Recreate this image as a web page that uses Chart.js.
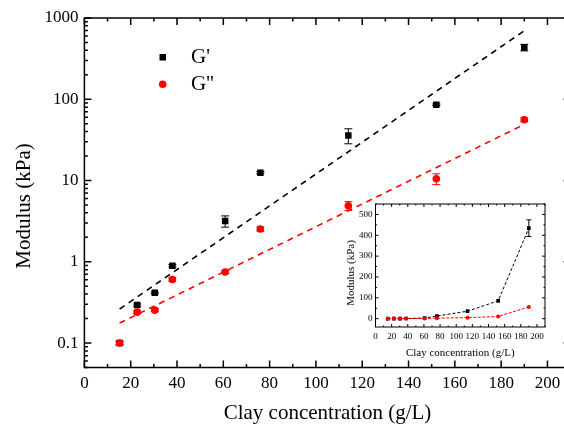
<!DOCTYPE html>
<html>
<head>
<meta charset="utf-8">
<title>Modulus vs clay concentration</title>
<script src="https://cdn.jsdelivr.net/npm/chart.js@4.4.1/dist/chart.umd.min.js"></script>
<style>
  html, body { margin: 0; padding: 0; background: #fff; overflow: hidden; }
  #wrap { position: relative; width: 564px; height: 427px; overflow: hidden; }
  #main { position: absolute; left: 0; top: 0; }
  #inset { position: absolute; left: 330px; top: 194px; }
</style>
</head>
<body>
<div id="wrap">
  <canvas id="main" width="600" height="427"></canvas>
  <canvas id="inset" width="230" height="172"></canvas>
</div>
<script>
// clay concentration (g/L)
const clay = [15.2, 22.8, 30.4, 38, 60.8, 76, 114, 152, 190];
// storage modulus G' (kPa) and its standard deviation
const storage = [0.1, 0.293, 0.415, 0.893, 3.17, 12.5, 35.8, 85.6, 434];
const storageErr = [0.005, 0.01, 0.01, 0.03, 0.5, 0.4, 7.5, 2, 40];
// loss modulus G'' (kPa) and its standard deviation
const loss = [0.1, 0.24, 0.254, 0.606, 0.747, 2.53, 4.89, 10.5, 56];
const lossErr = [0.005, 0.01, 0.01, 0.03, 0.03, 0.15, 0.6, 1.6, 3];
// exponential fits (straight on the log axis), end points
const fitX = [15.2, 190];
const storageFit = [0.262, 697];
const lossFit = [0.176, 49];

// tick labels
const xTicks = [0, 20, 40, 60, 80, 100, 120, 140, 160, 180, 200];
const yTicks = [0.1, 1, 10, 100, 1000];
const insetYTicks = [0, 100, 200, 300, 400, 500];

const SERIF = '"Liberation Serif", "Times New Roman", serif';
const RED = '#ff0000';

const pts = (xs, ys) => xs.map((x, i) => ({ x: x, y: ys[i] }));

// minor ticks on the log axis: 2..9 of every decade
const logMinor = [];
for (let e = -2; e <= 2; e++) {
  for (let m = 2; m <= 9; m++) logMinor.push(m * Math.pow(10, e));
}
const xMinorMain = xTicks.map(v => v + 10);
const xMinorInset = xTicks.map(v => v + 10);
const yMinorInset = insetYTicks.map(v => v + 50);

// frame, inward ticks, error bars, legend and rotated y title
function framePlugin(cfg) {
  return {
    id: 'frame',
    beforeDatasetsDraw(chart) {
      const { ctx, scales: { x, y } } = chart;
      ctx.save();
      ctx.lineWidth = 1;
      cfg.errors.forEach(e => {
        ctx.strokeStyle = e.color;
        e.y.forEach((v, i) => {
          const px = x.getPixelForValue(e.x[i]);
          const hi = y.getPixelForValue(v + e.err[i]);
          const lo = y.getPixelForValue(v - e.err[i]);
          ctx.beginPath();
          ctx.moveTo(px, hi); ctx.lineTo(px, lo);
          ctx.moveTo(px - cfg.cap, hi); ctx.lineTo(px + cfg.cap, hi);
          ctx.moveTo(px - cfg.cap, lo); ctx.lineTo(px + cfg.cap, lo);
          ctx.stroke();
        });
      });
      ctx.restore();
    },
    afterDraw(chart) {
      const { ctx, chartArea: a, scales: { x, y } } = chart;
      ctx.save();
      ctx.strokeStyle = '#000';
      ctx.lineWidth = cfg.frameWidth;
      ctx.strokeRect(a.left, a.top, a.right - a.left, a.bottom - a.top);

      const line = (x1, y1, x2, y2) => { ctx.moveTo(x1, y1); ctx.lineTo(x2, y2); };
      ctx.beginPath();
      const xt = (vals, len) => vals.forEach(v => {
        const p = x.getPixelForValue(v);
        if (p < a.left - 0.5 || p > a.right + 0.5) return;
        line(p, a.bottom, p, a.bottom - len);
        line(p, a.top, p, a.top + len);
      });
      const yt = (vals, len) => vals.forEach(v => {
        const p = y.getPixelForValue(v);
        if (p < a.top - 0.5 || p > a.bottom + 0.5) return;
        line(a.left, p, a.left + len, p);
        line(a.right, p, a.right - len, p);
      });
      xt(cfg.xMajor, cfg.major);
      xt(cfg.xMinor, cfg.minor);
      yt(cfg.yMajor, cfg.major);
      yt(cfg.yMinor, cfg.minor);
      ctx.stroke();

      // y axis title
      ctx.fillStyle = '#000';
      ctx.font = cfg.titleSize + 'px ' + SERIF;
      ctx.textAlign = 'center';
      ctx.textBaseline = 'middle';
      ctx.translate(cfg.titlePos[0], cfg.titlePos[1]);
      ctx.rotate(-Math.PI / 2);
      ctx.fillText('Modulus (kPa)', 0, 0);
      ctx.restore();

      if (cfg.legend) {
        ctx.save();
        ctx.font = '21px ' + SERIF;
        ctx.textBaseline = 'middle';
        ctx.fillStyle = '#000';
        ctx.fillRect(159.5, 54, 6.5, 6.5);
        ctx.fillText("G'", 191, 57);
        ctx.fillStyle = RED;
        ctx.beginPath();
        ctx.arc(162.7, 84.3, 3.8, 0, Math.PI * 2);
        ctx.fill();
        ctx.fillStyle = '#000';
        ctx.fillText("G''", 191, 84);
        ctx.restore();
      }
    }
  };
}

const tickFont = size => ({ family: SERIF, size: size });

// main log-scale chart
new Chart(document.getElementById('main'), {
  type: 'scatter',
  data: {
    datasets: [
      {
        label: "G''",
        data: pts(clay, loss),
        pointStyle: 'circle',
        pointRadius: 3.8,
        backgroundColor: RED,
        borderWidth: 0,
        order: 0
      },
      {
        label: "G'",
        data: pts(clay, storage),
        pointStyle: 'rect',
        pointRadius: 4.6,
        backgroundColor: '#000',
        borderWidth: 0,
        order: 1
      },
      {
        label: "G' fit",
        data: pts(fitX, storageFit),
        showLine: true,
        pointRadius: 0,
        borderColor: '#000',
        borderWidth: 1.6,
        borderDash: [6, 5],
        order: 2
      },
      {
        label: "G'' fit",
        data: pts(fitX, lossFit),
        showLine: true,
        pointRadius: 0,
        borderColor: RED,
        borderWidth: 1.6,
        borderDash: [6, 5],
        order: 3
      }
    ]
  },
  options: {
    responsive: false,
    animation: false,
    layout: { padding: { left: 0, top: 18, right: 29.4, bottom: 0 } },
    plugins: { legend: { display: false }, tooltip: { enabled: false } },
    scales: {
      x: {
        type: 'linear',
        min: 0,
        max: 210,
        bounds: 'data',
        afterFit: s => { s.height = 59.5; },
        afterBuildTicks: s => { s.ticks = xTicks.map(v => ({ value: v })); },
        grid: { display: false, drawTicks: false },
        border: { display: false },
        ticks: { font: tickFont(17), color: '#000', padding: 6, autoSkip: false, maxRotation: 0 },
        title: {
          display: true,
          text: 'Clay concentration (g/L)',
          font: { family: SERIF, size: 21 },
          color: '#000',
          padding: { top: 0, bottom: 1 }
        }
      },
      y: {
        type: 'logarithmic',
        min: 0.05,
        max: 1000,
        afterFit: s => { s.width = 84.4; },
        afterBuildTicks: s => { s.ticks = yTicks.map(v => ({ value: v })); },
        grid: { display: false, drawTicks: false },
        border: { display: false },
        ticks: { font: tickFont(17), color: '#000', padding: 6, callback: v => String(v) }
      }
    }
  },
  plugins: [framePlugin({
    errors: [
      { x: clay, y: storage, err: storageErr, color: '#000' },
      { x: clay, y: loss, err: lossErr, color: RED }
    ],
    cap: 4,
    frameWidth: 1.5,
    major: 7,
    minor: 3.5,
    xMajor: xTicks,
    xMinor: xMinorMain,
    yMajor: yTicks,
    yMinor: logMinor,
    titleSize: 21,
    titlePos: [24, 206],
    legend: true
  })]
});

// linear-scale inset
new Chart(document.getElementById('inset'), {
  type: 'scatter',
  data: {
    datasets: [
      {
        label: "G''",
        data: pts(clay, loss),
        showLine: true,
        borderColor: RED,
        borderWidth: 1,
        borderDash: [3, 1.5],
        pointStyle: 'circle',
        pointRadius: 2,
        backgroundColor: RED,
        pointBorderWidth: 0,
        order: 0
      },
      {
        label: "G'",
        data: pts(clay, storage),
        showLine: true,
        borderColor: '#000',
        borderWidth: 1,
        borderDash: [3, 2],
        pointStyle: 'rect',
        pointRadius: 2.6,
        backgroundColor: '#000',
        pointBorderWidth: 0,
        order: 1
      }
    ]
  },
  options: {
    responsive: false,
    animation: false,
    layout: { padding: { left: 0, top: 10, right: 15, bottom: 0 } },
    plugins: { legend: { display: false }, tooltip: { enabled: false } },
    scales: {
      x: {
        type: 'linear',
        min: 0,
        max: 210,
        bounds: 'data',
        afterFit: s => { s.height = 39; },
        afterBuildTicks: s => { s.ticks = xTicks.map(v => ({ value: v })); },
        grid: { display: false, drawTicks: false },
        border: { display: false },
        ticks: { font: tickFont(9), color: '#000', padding: 4, autoSkip: false, maxRotation: 0 },
        title: {
          display: true,
          text: 'Clay concentration (g/L)',
          font: { family: SERIF, size: 11 },
          color: '#000',
          padding: { top: 0, bottom: 6.7 }
        }
      },
      y: {
        type: 'linear',
        min: -40,
        max: 550,
        bounds: 'data',
        afterFit: s => { s.width = 45.5; },
        afterBuildTicks: s => { s.ticks = insetYTicks.map(v => ({ value: v })); },
        grid: { display: false, drawTicks: false },
        border: { display: false },
        ticks: { font: tickFont(9), color: '#000', padding: 3 }
      }
    }
  },
  plugins: [framePlugin({
    errors: [
      { x: clay.slice(-1), y: storage.slice(-1), err: storageErr.slice(-1), color: '#000' }
    ],
    cap: 2.5,
    frameWidth: 1,
    major: 3,
    minor: 1.5,
    xMajor: xTicks,
    xMinor: xMinorInset,
    yMajor: insetYTicks,
    yMinor: yMinorInset,
    titleSize: 11,
    titlePos: [21, 79],
    legend: false
  })]
});
</script>
</body>
</html>
